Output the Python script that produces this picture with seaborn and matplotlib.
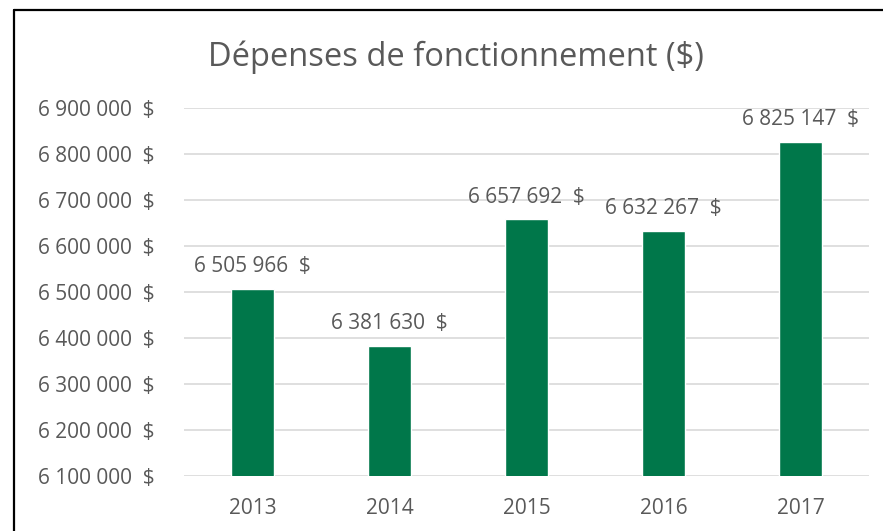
import matplotlib
matplotlib.use("Agg")
import matplotlib.pyplot as plt
from matplotlib.lines import Line2D
from matplotlib.ticker import FuncFormatter
import pandas as pd
import seaborn as sns

years = ["2013", "2014", "2015", "2016", "2017"]
depenses = [6505966, 6381630, 6657692, 6632267, 6825147]
y_ticks = [6100000, 6200000, 6300000, 6400000, 6500000, 6600000, 6700000, 6800000, 6900000]

GREEN = "#00774A"
TEXT = "#595959"
GRID = "#D9D9D9"


def fmt_money(v):
    # french style: space as thousands separator, dollar sign after
    return f"{int(round(v)):,}".replace(",", " ") + "  $"


def make_chart():
    sns.set_style("white")
    plt.rcParams["font.family"] = ["Open Sans", "DejaVu Sans"]

    df = pd.DataFrame({"Année": years, "Dépenses": depenses})

    fig = plt.figure(figsize=(8.83, 5.31), dpi=100)
    ax = fig.add_axes([0.2084, 0.1036, 0.7756, 0.693])

    sns.barplot(data=df, x="Année", y="Dépenses", color=GREEN, width=0.31,
                saturation=1, ax=ax, zorder=3)

    ax.set_xlim(-0.5, 4.5)
    ax.set_ylim(y_ticks[0], y_ticks[-1])
    ax.set_yticks(y_ticks)
    ax.yaxis.set_major_formatter(FuncFormatter(lambda v, p: fmt_money(v)))
    ax.grid(axis="y", color=GRID, linewidth=1.2, zorder=0)
    ax.set_axisbelow(True)
    for s in ax.spines.values():
        s.set_visible(False)
    ax.tick_params(axis="y", length=0, pad=21, labelsize=15, labelcolor=TEXT)
    ax.tick_params(axis="x", length=0, pad=16, labelsize=15, labelcolor=TEXT)
    ax.set_xlabel("")
    ax.set_ylabel("")

    for i, v in enumerate(depenses):
        ax.text(i, v + 26000, fmt_money(v), ha="center", va="bottom",
                fontsize=15, color=TEXT, clip_on=False)

    fig.text(0.516, 0.892, "Dépenses de fonctionnement ($)", ha="center",
             va="center", fontsize=23.5, color=TEXT)

    # chart border (only left and top visible in the capture)
    fig.add_artist(Line2D([14.5 / 883, 14.5 / 883], [0, 1 - 9.5 / 531],
                          color="black", linewidth=1.6, transform=fig.transFigure))
    fig.add_artist(Line2D([14.5 / 883, 1], [1 - 9.5 / 531, 1 - 9.5 / 531],
                          color="black", linewidth=1.6, transform=fig.transFigure))

    fig.savefig("out.png", dpi=100)


if __name__ == "__main__":
    make_chart()
